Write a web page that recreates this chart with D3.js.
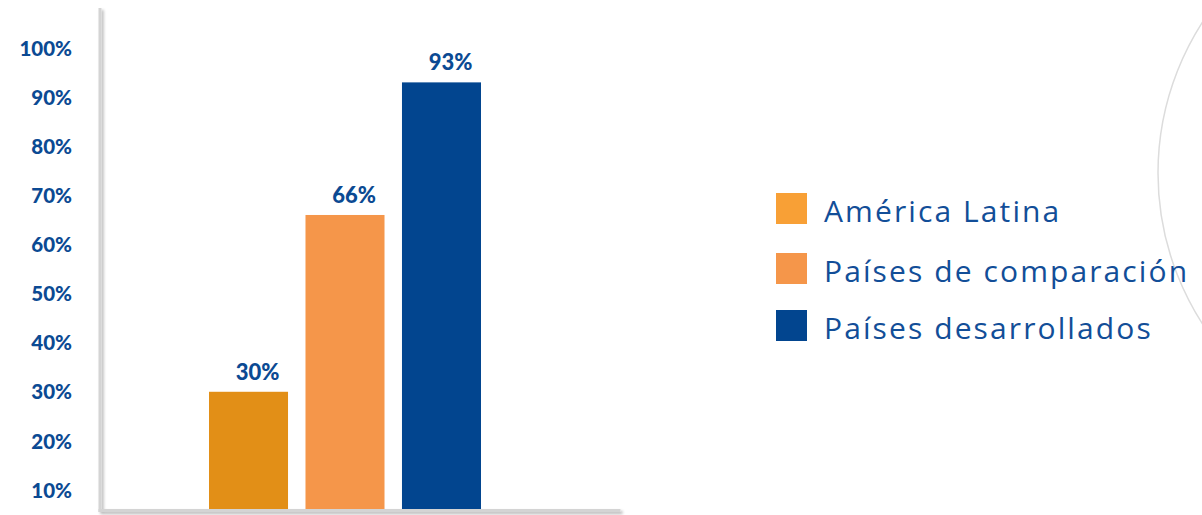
<!DOCTYPE html>
<html>
<head>
<meta charset="utf-8">
<script src="https://cdn.jsdelivr.net/npm/d3@7"></script>
<style>
  html, body { margin: 0; padding: 0; background: #ffffff; }
  svg { display: block; }
</style>
</head>
<body>
<svg id="chart" width="1202" height="515"></svg>
<script>
// ---- data ----
const categories = ["América Latina", "Países de comparación", "Países desarrollados"];
const values = [30, 66, 93];
const valueLabels = ["30%", "66%", "93%"];
const tickValues = [10, 20, 30, 40, 50, 60, 70, 80, 90, 100];
const tickLabels = ["10%", "20%", "30%", "40%", "50%", "60%", "70%", "80%", "90%", "100%"];
const barColors = ["#E28F17", "#F5964A", "#02458F"];
const legendColors = ["#F8A036", "#F5964A", "#02458F"];

const svg = d3.select("#chart");
const textBlue = "#0B4A93";

// decorative arc on right
svg.append("circle")
  .attr("cx", 1436).attr("cy", 173).attr("r", 278)
  .attr("fill", "none").attr("stroke", "#dcdcdc").attr("stroke-width", 1.5);

// scales
const baseY = 509;
const y = d3.scaleLinear().domain([10, 100]).range([490, 48]);
const x = d3.scaleBand().domain(categories).range([209, 481]).paddingInner(0.181).paddingOuter(0);

// shadow filter
const defs = svg.append("defs");
const f = defs.append("filter").attr("id", "sh").attr("filterUnits", "userSpaceOnUse")
  .attr("x", 0).attr("y", 0).attr("width", 1202).attr("height", 515);
f.append("feGaussianBlur").attr("in", "SourceAlpha").attr("stdDeviation", 1.5).attr("result", "b");
f.append("feOffset").attr("in", "b").attr("dx", 1.5).attr("dy", 1.5).attr("result", "o");
f.append("feComponentTransfer").attr("in", "o").attr("result", "o2")
  .append("feFuncA").attr("type", "linear").attr("slope", 0.3);
const m = f.append("feMerge");
m.append("feMergeNode").attr("in", "o2");
m.append("feMergeNode").attr("in", "SourceGraphic");

// y axis labels
const yAxis = d3.axisLeft(y).tickValues(tickValues).tickSize(0).tickPadding(0)
  .tickFormat((d, i) => tickLabels[i]);
const gy = svg.append("g").attr("transform", "translate(72,0)").call(yAxis);
gy.select(".domain").remove();
gy.selectAll("text")
  .attr("fill", textBlue)
  .attr("font-family", "Lato, 'Open Sans', sans-serif")
  .attr("font-weight", "900")
  .attr("font-size", 20.5)
  .attr("dy", "0.35em");

// axis lines (drawn as rects so the shadow filter renders)
const axes = svg.append("g").attr("filter", "url(#sh)");
axes.append("rect").attr("x", 98.5).attr("y", 8).attr("width", 3).attr("height", 504).attr("fill", "#d4d4d4");
axes.append("rect").attr("x", 98.5).attr("y", 509).attr("width", 522).attr("height", 3).attr("fill", "#d4d4d4");

// bars
svg.append("g").selectAll("rect").data(values).join("rect")
  .attr("x", (d, i) => x(categories[i]))
  .attr("width", x.bandwidth())
  .attr("y", d => y(d))
  .attr("height", d => baseY - y(d))
  .attr("fill", (d, i) => barColors[i]);

// value labels
svg.append("g").selectAll("text").data(values).join("text")
  .attr("x", (d, i) => x(categories[i]) + x.bandwidth() / 2 + 9)
  .attr("y", d => y(d) - 12)
  .attr("text-anchor", "middle")
  .attr("fill", textBlue)
  .attr("font-family", "Lato, 'Open Sans', sans-serif")
  .attr("font-weight", "900")
  .attr("font-size", 22)
  .text((d, i) => valueLabels[i]);

// legend
const legendY = [193, 253, 310];
const lg = svg.append("g");
categories.forEach((c, i) => {
  lg.append("rect").attr("x", 776).attr("y", legendY[i]).attr("width", 31).attr("height", 31)
    .attr("fill", legendColors[i]);
  lg.append("text").attr("x", 824).attr("y", legendY[i] + 29)
    .attr("fill", "#124E98")
    .attr("font-family", "'Open Sans', sans-serif")
    .attr("font-size", 30)
    .attr("letter-spacing", 2.1)
    .text(c);
});
</script>
</body>
</html>
